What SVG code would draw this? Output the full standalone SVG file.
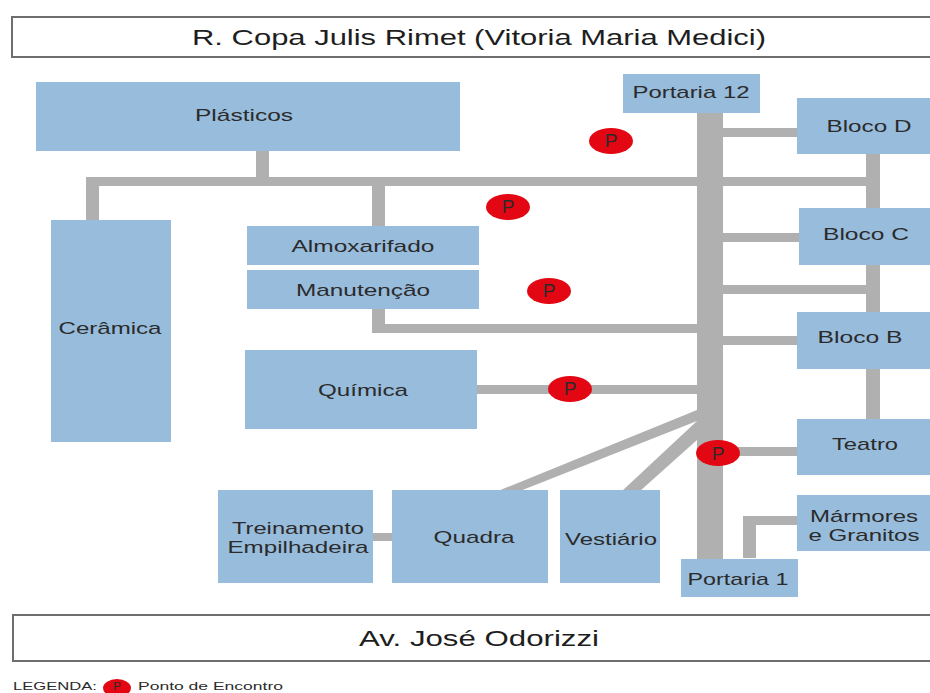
<svg xmlns="http://www.w3.org/2000/svg" width="930" height="693" viewBox="0 0 930 693">
<style>
.n{fill:#98bcdc}
.c{fill:#b0b0b0}
.b{fill:#fff;stroke:#6e6e6e;stroke-width:2}
.p{fill:#e30613}
text{font-family:"Liberation Sans",Arial,sans-serif;fill:#2b2b2b;text-anchor:middle;font-size:17px}
.h{font-size:22px;fill:#1e1e1e}
.m{font-size:19px}
.l{font-size:11.5px;text-anchor:start}
.s{font-size:11.5px}
</style>
<rect width="930" height="693" fill="#fff"/>
<g id="connectors">
<rect class="c" x="697" y="110" width="26" height="452"/>
<rect class="c" x="86" y="177" width="786" height="9"/>
<rect class="c" x="256" y="150" width="13" height="30"/>
<rect class="c" x="86" y="180" width="13" height="41"/>
<rect class="c" x="372" y="180" width="13" height="47"/>
<rect class="c" x="372" y="308" width="13" height="25"/>
<rect class="c" x="372" y="324" width="326" height="9"/>
<rect class="c" x="476" y="385" width="222" height="9"/>
<rect class="c" x="722" y="128" width="76" height="9"/>
<rect class="c" x="866" y="153" width="14" height="267"/>
<rect class="c" x="722" y="233" width="78" height="9"/>
<rect class="c" x="722" y="285" width="145" height="9"/>
<rect class="c" x="722" y="336" width="76" height="9"/>
<rect class="c" x="722" y="447" width="76" height="9"/>
<path class="c" d="M743 558V516H798V525H756V558Z"/>
<path class="c" d="M697 410L697 421L520 491L498 491Z"/>
<path class="c" d="M697 421L697 440L640 491L622 491Z"/>
<rect class="c" x="372" y="533" width="21" height="8"/>
</g>
<g id="title-top"><rect class="b" x="12" y="17" width="924" height="40"/><text class="h" x="479" y="45" textLength="574" lengthAdjust="spacingAndGlyphs">R. Copa Julis Rimet (Vitoria Maria Medici)</text></g>
<g id="title-bottom"><rect class="b" x="13" y="615" width="923" height="46"/><text class="h" x="479" y="646" textLength="240" lengthAdjust="spacingAndGlyphs">Av. José Odorizzi</text></g>
<g id="plasticos"><rect class="n" x="36" y="82" width="424" height="69"/><text x="244" y="121" textLength="98" lengthAdjust="spacingAndGlyphs">Plásticos</text></g>
<g id="ceramica"><rect class="n" x="51" y="220" width="120" height="222"/><text x="110" y="334" textLength="103" lengthAdjust="spacingAndGlyphs">Cerâmica</text></g>
<g id="almoxarifado"><rect class="n" x="247" y="226" width="232" height="39"/><text x="363" y="252" textLength="143" lengthAdjust="spacingAndGlyphs">Almoxarifado</text></g>
<g id="manutencao"><rect class="n" x="247" y="270" width="232" height="39"/><text x="363" y="296" textLength="134" lengthAdjust="spacingAndGlyphs">Manutenção</text></g>
<g id="quimica"><rect class="n" x="245" y="350" width="232" height="79"/><text x="363" y="396" textLength="90" lengthAdjust="spacingAndGlyphs">Química</text></g>
<g id="treinamento"><rect class="n" x="218" y="490" width="155" height="93"/><text x="298" y="534" textLength="132" lengthAdjust="spacingAndGlyphs">Treinamento</text><text x="298" y="553" textLength="141" lengthAdjust="spacingAndGlyphs">Empilhadeira</text></g>
<g id="quadra"><rect class="n" x="392" y="490" width="156" height="93"/><text x="474" y="543" textLength="81" lengthAdjust="spacingAndGlyphs">Quadra</text></g>
<g id="vestiario"><rect class="n" x="560" y="490" width="100" height="93"/><text x="611" y="545" textLength="92" lengthAdjust="spacingAndGlyphs">Vestiário</text></g>
<g id="portaria12"><rect class="n" x="623" y="74" width="137" height="39"/><text x="691" y="98" textLength="117" lengthAdjust="spacingAndGlyphs">Portaria 12</text></g>
<g id="portaria1"><rect class="n" x="681" y="559" width="117" height="38"/><text x="738" y="585" textLength="101" lengthAdjust="spacingAndGlyphs">Portaria 1</text></g>
<g id="bloco-d"><rect class="n" x="797" y="98" width="133" height="56"/><text x="869" y="132" textLength="85" lengthAdjust="spacingAndGlyphs">Bloco D</text></g>
<g id="bloco-c"><rect class="n" x="799" y="208" width="131" height="57"/><text x="866" y="240" textLength="86" lengthAdjust="spacingAndGlyphs">Bloco C</text></g>
<g id="bloco-b"><rect class="n" x="797" y="312" width="133" height="57"/><text x="860" y="343" textLength="85" lengthAdjust="spacingAndGlyphs">Bloco B</text></g>
<g id="teatro"><rect class="n" x="797" y="419" width="133" height="56"/><text x="865" y="450" textLength="66" lengthAdjust="spacingAndGlyphs">Teatro</text></g>
<g id="marmores"><rect class="n" x="797" y="495" width="133" height="56"/><text x="864" y="522" textLength="108" lengthAdjust="spacingAndGlyphs">Mármores</text><text x="864" y="541" textLength="111" lengthAdjust="spacingAndGlyphs">e Granitos</text></g>
<g id="p1"><ellipse class="p" cx="611" cy="141" rx="22" ry="13"/><text class="m" x="611" y="147">P</text></g>
<g id="p2"><ellipse class="p" cx="508" cy="207" rx="22" ry="13"/><text class="m" x="508" y="213">P</text></g>
<g id="p3"><ellipse class="p" cx="549" cy="291" rx="22" ry="13"/><text class="m" x="549" y="297">P</text></g>
<g id="p4"><ellipse class="p" cx="570" cy="389" rx="22" ry="13"/><text class="m" x="570" y="395">P</text></g>
<g id="p5"><ellipse class="p" cx="718" cy="453" rx="22" ry="13"/><text class="m" x="718" y="460">P</text></g>
<g id="legenda"><text class="l" x="13" y="690" textLength="84" lengthAdjust="spacingAndGlyphs">LEGENDA:</text><ellipse class="p" cx="117" cy="688" rx="14" ry="9"/><text class="s" x="117" y="690">P</text><text class="l" x="138" y="690" textLength="145" lengthAdjust="spacingAndGlyphs">Ponto de Encontro</text></g>
</svg>
